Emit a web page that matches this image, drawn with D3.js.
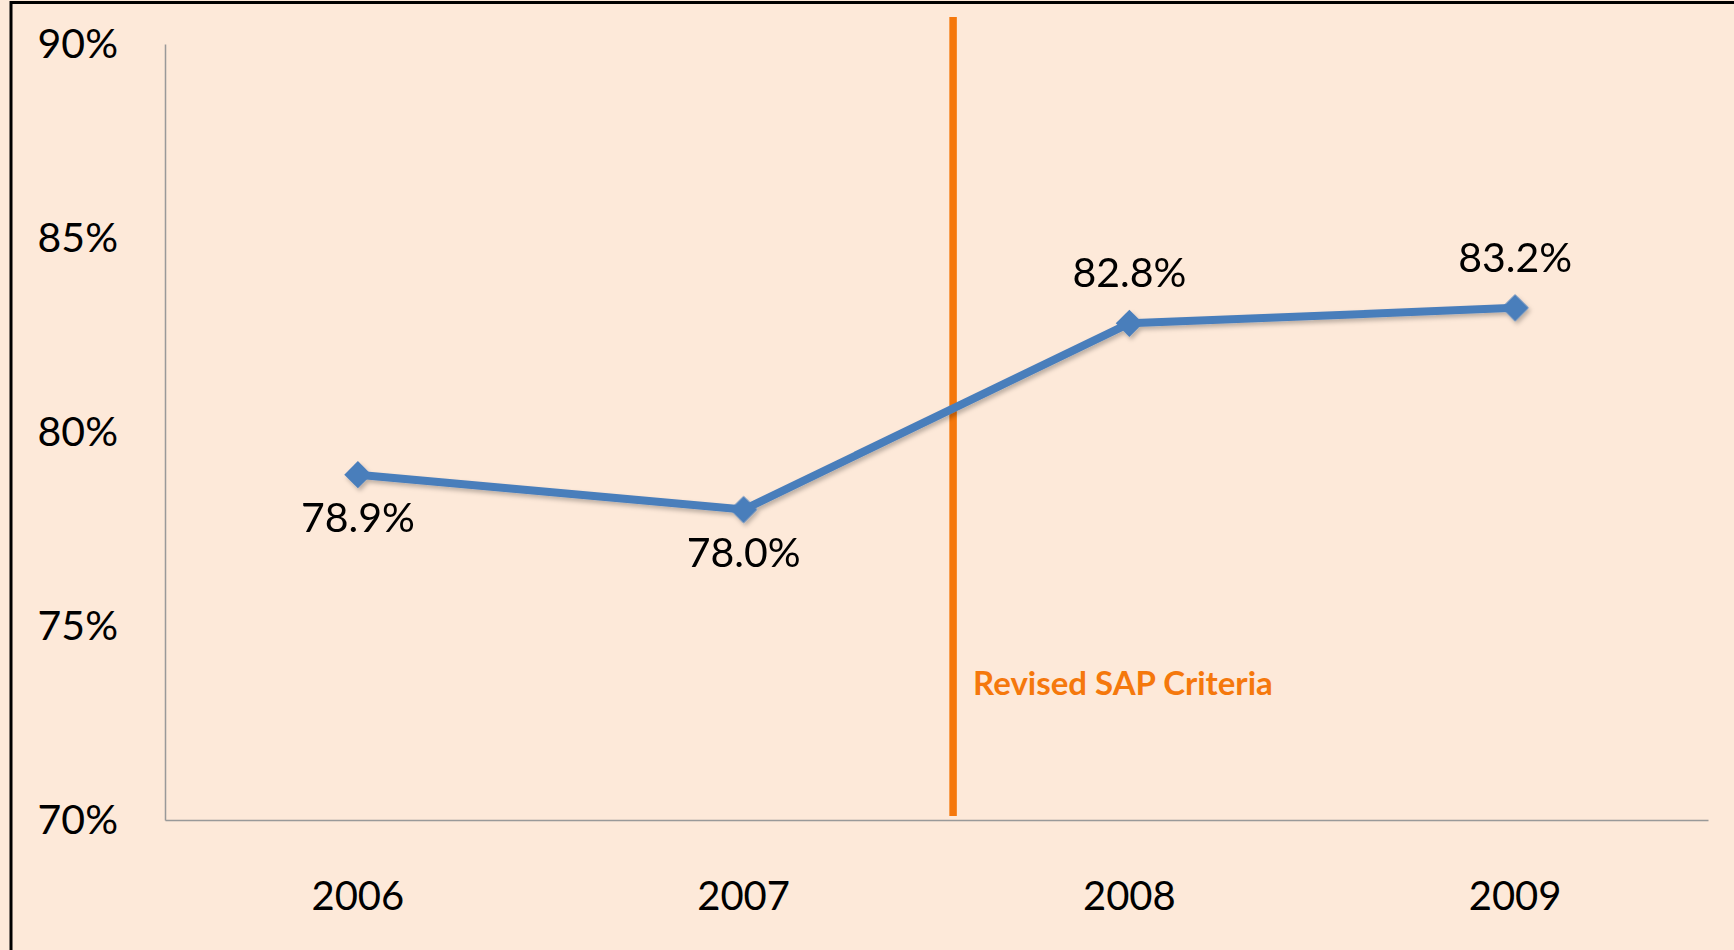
<!DOCTYPE html>
<html>
<head>
<meta charset="utf-8">
<script src="https://cdn.jsdelivr.net/npm/d3@7"></script>
<style>
  html, body { margin: 0; padding: 0; background: #fde9d9; }
  svg { display: block; }
  text { font-family: Lato, "Open Sans", sans-serif; fill: #000; }
</style>
</head>
<body>
<div id="chart"></div>
<script>
// chart data
const years = ["2006", "2007", "2008", "2009"];
const rates = [78.9, 78.0, 82.8, 83.2];
const yTicks = [70, 75, 80, 85, 90];
const revisionLabel = "Revised SAP Criteria";
const revisionAfter = "2007"; // criteria changed after this year

const width = 1734,
	height = 950;

const margin = {
	top: 44,
	right: 26,
	bottom: 130,
	left: 165
};

const svg = d3.select("#chart").append("svg")
	.attr("width", width)
	.attr("height", height);

// background + frame (only top/left edges show in the picture)
svg.append("rect")
	.attr("width", width)
	.attr("height", height)
	.attr("fill", "#fde9d9");

svg.append("path")
	.attr("d", `M11,${height + 5} V2.5 H${width + 5}`)
	.attr("fill", "none")
	.attr("stroke", "#000")
	.attr("stroke-width", 3);

const x = d3.scaleBand()
	.domain(years)
	.range([margin.left, width - margin.right]);

const y = d3.scaleLinear()
	.domain([70, 90])
	.range([height - margin.bottom, margin.top]);

const defs = svg.append("defs");
defs.append("filter")
	.attr("id", "shadow")
	.attr("x", "-20%").attr("y", "-20%")
	.attr("width", "140%").attr("height", "140%")
	.append("feDropShadow")
	.attr("dx", 2).attr("dy", 3)
	.attr("stdDeviation", 2)
	.attr("flood-color", "#000")
	.attr("flood-opacity", 0.25);

// y axis
const yAxis = svg.append("g")
	.attr("transform", `translate(${margin.left},0)`)
	.call(d3.axisLeft(y)
		.tickValues(yTicks)
		.tickSize(0)
		.tickPadding(47)
		.tickFormat(d => d + "%"));

yAxis.select(".domain").attr("stroke", "#999").attr("stroke-width", 1.5);
yAxis.selectAll("text")
	.attr("font-size", 41)
	.attr("font-family", "Lato, sans-serif")
	.attr("fill", "#000");

// x axis
const xAxis = svg.append("g")
	.attr("transform", `translate(0,${y(70)})`)
	.call(d3.axisBottom(x)
		.tickSize(0)
		.tickSizeOuter(0)
		.tickPadding(62));

xAxis.select(".domain").attr("stroke", "#999").attr("stroke-width", 1.5);
xAxis.selectAll("text")
	.attr("font-size", 40)
	.attr("font-family", "Lato, sans-serif")
	.attr("fill", "#000");

// revised criteria marker
const revX = x(revisionAfter) + x.bandwidth() * 1.043;

svg.append("line")
	.attr("x1", revX).attr("x2", revX)
	.attr("y1", y(90) - 27)
	.attr("y2", y(70) - 4)
	.attr("stroke", "#f5780c")
	.attr("stroke-width", 7.5);

svg.append("text")
	.attr("x", revX + 20)
	.attr("y", y(73.22))
	.attr("font-size", 33)
	.attr("font-weight", "bold")
	.style("fill", "#f5780c")
	.text(revisionLabel);

// series
const pts = years.map((yr, i) => ({ year: yr, value: rates[i] }));
const cx = d => x(d.year) + x.bandwidth() / 2;

const line = d3.line()
	.x(cx)
	.y(d => y(d.value));

const series = svg.append("g").attr("filter", "url(#shadow)");

series.append("path")
	.datum(pts)
	.attr("d", line)
	.attr("fill", "none")
	.attr("stroke", "#4a7ebb")
	.attr("stroke-width", 8)
	.attr("stroke-linejoin", "round");

series.selectAll(".marker")
	.data(pts)
	.join("path")
	.attr("class", "marker")
	.attr("d", d3.symbol().type(d3.symbolSquare).size(370))
	.attr("transform", d => `translate(${cx(d)},${y(d.value)}) rotate(45)`)
	.attr("fill", "#4a7ebb");

// value labels: below the line before the revision, above it after
const revIdx = years.indexOf(revisionAfter);
svg.selectAll(".valLabel")
	.data(pts)
	.join("text")
	.attr("class", "valLabel")
	.attr("x", cx)
	.attr("y", (d, i) => y(d.value) + (i <= revIdx ? 57 : -36))
	.attr("text-anchor", "middle")
	.attr("font-size", 41)
	.text(d => d.value.toFixed(1) + "%");
</script>
</body>
</html>
